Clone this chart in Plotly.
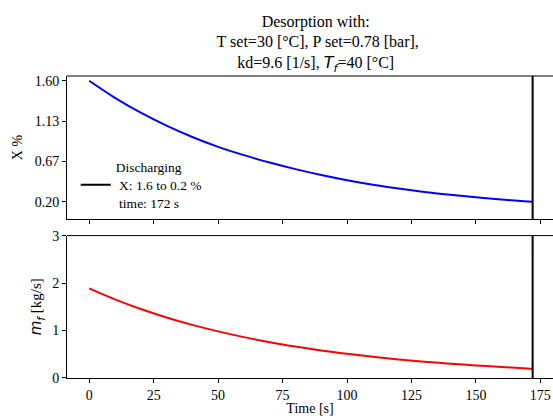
import plotly.graph_objects as go

# Sampled time axis [s]
time_s = [0, 10, 20, 30, 40, 50, 60, 70, 80, 90, 100, 110, 120, 130, 140, 150, 160, 170, 172]

# Adsorbate loading X [%] during desorption
loading_x = [1.600, 1.403, 1.231, 1.081, 0.950, 0.836, 0.740, 0.654, 0.578, 0.510,
             0.450, 0.398, 0.354, 0.315, 0.282, 0.252, 0.226, 0.204, 0.200]

# Fluid mass flow m_f [kg/s]
mass_flow = [1.890, 1.658, 1.454, 1.276, 1.119, 0.982, 0.861, 0.755, 0.663, 0.581,
             0.510, 0.447, 0.392, 0.344, 0.302, 0.265, 0.232, 0.202, 0.195]

discharge_time = 172
legend_label = "Discharging<br>\u00a0X: 1.6 to 0.2 %<br>\u00a0time: 172 s"

x_ticks = [0, 25, 50, 75, 100, 125, 150, 175]
x_tick_text = ["0", "25", "50", "75", "100", "125", "150", "175"]
top_y_ticks = [0.2, 0.2 + 1.4 / 3, 0.2 + 2.8 / 3, 1.6]
top_y_tick_text = ["0.20", "0.67", "1.13", "1.60"]
bottom_y_ticks = [0, 1, 2, 3]
bottom_y_tick_text = ["0", "1", "2", "3"]

top_range = [0.0, 1.655]
bottom_range = [0.0, 3.0]
x_range = [-8.6, 179.9]

SERIF = "Liberation Serif, Times New Roman, serif"
MATH = "font-family:'DejaVu Sans'"

fig = go.Figure()

fig.add_trace(go.Scatter(x=time_s, y=loading_x, mode="lines", line=dict(color="blue", width=2, shape="spline"),
                         showlegend=False, xaxis="x", yaxis="y"))
fig.add_trace(go.Scatter(x=[discharge_time, discharge_time], y=top_range, mode="lines",
                         line=dict(color="black", width=2), name=legend_label, showlegend=True,
                         xaxis="x", yaxis="y"))
fig.add_trace(go.Scatter(x=time_s, y=mass_flow, mode="lines", line=dict(color="red", width=2, shape="spline"),
                         showlegend=False, xaxis="x2", yaxis="y2"))
fig.add_trace(go.Scatter(x=[discharge_time, discharge_time], y=bottom_range, mode="lines",
                         line=dict(color="black", width=2), showlegend=False, xaxis="x2", yaxis="y2"))

# Top border of each panel
for xr, yr in (("x domain", "y domain"), ("x2 domain", "y2 domain")):
    fig.add_shape(type="line", xref=xr, yref=yr, x0=0, x1=1, y0=1, y1=1,
                  line=dict(color="black", width=1))

axis_common = dict(showline=True, linecolor="black", linewidth=1, ticks="outside", ticklen=4,
                   tickwidth=1, tickcolor="black", showgrid=False, zeroline=False, mirror=False,
                   automargin=False, tickfont=dict(family=SERIF, size=14, color="black"))

fig.update_layout(
    width=553, height=416,
    margin=dict(l=67, r=0, t=76, b=38),
    paper_bgcolor="white", plot_bgcolor="white",
    font=dict(family=SERIF, size=14, color="black"),
    title=dict(
        text=("Desorption with:<br>\u00a0T set=30 [°C], P set=0.78 [bar],<br>"
              f"kd=9.6 [1/s], <span style=\"{MATH}\"><i>T</i><sub><i>f</i></sub></span>=40 [°C]"),
        x=283 / 553, xanchor="center", xref="paper", y=0.936, yanchor="top",
        font=dict(family=SERIF, size=16, color="black"),
    ),
    xaxis=dict(axis_common, domain=[0, 1], anchor="y", range=x_range, tickvals=x_ticks,
               showticklabels=False),
    yaxis=dict(axis_common, domain=[0.526, 1], anchor="x", range=top_range, tickvals=top_y_ticks,
               ticktext=top_y_tick_text,
               title=dict(text="X %", standoff=8, font=dict(family=SERIF, size=14))),
    xaxis2=dict(axis_common, domain=[0, 1], anchor="y2", range=x_range, tickvals=x_ticks,
                ticktext=x_tick_text,
                title=dict(text="Time [s]", standoff=4, font=dict(family=SERIF, size=14))),
    yaxis2=dict(axis_common, domain=[0, 0.4715], anchor="x2", range=bottom_range, tickvals=bottom_y_ticks,
                ticktext=bottom_y_tick_text,
                title=dict(text=f"<span style=\"{MATH}\"><i>m</i><sub><i>f</i></sub></span> [kg/s]",
                           standoff=6, font=dict(family=SERIF, size=15))),
    legend=dict(x=0.018, xanchor="left", y=0.53, yanchor="bottom", bgcolor="rgba(0,0,0,0)",
                font=dict(family=SERIF, size=13.5, color="black"), borderwidth=0),
)

fig.write_html("out.html")
